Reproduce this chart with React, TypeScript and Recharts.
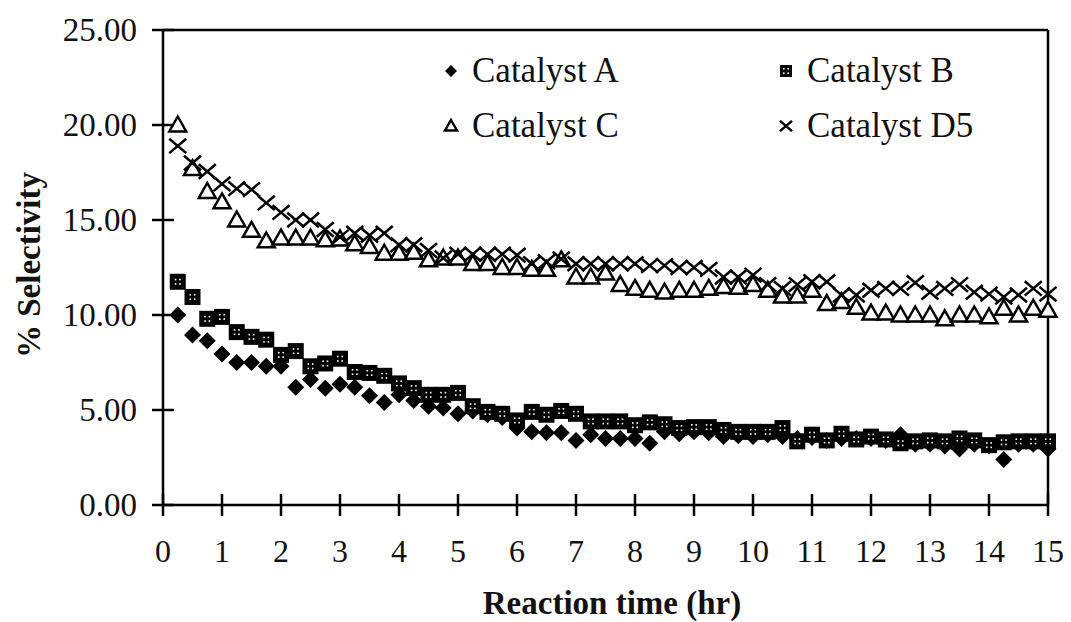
import React from "react";
import {
  ScatterChart,
  Scatter,
  XAxis,
  YAxis,
  ReferenceLine,
  Label,
} from "recharts";

const hours = [
  0.25, 0.5, 0.75, 1, 1.25, 1.5, 1.75, 2, 2.25, 2.5, 2.75, 3, 3.25, 3.5, 3.75,
  4, 4.25, 4.5, 4.75, 5, 5.25, 5.5, 5.75, 6, 6.25, 6.5, 6.75, 7, 7.25, 7.5,
  7.75, 8, 8.25, 8.5, 8.75, 9, 9.25, 9.5, 9.75, 10, 10.25, 10.5, 10.75, 11,
  11.25, 11.5, 11.75, 12, 12.25, 12.5, 12.75, 13, 13.25, 13.5, 13.75, 14,
  14.25, 14.5, 14.75, 15,
];

const catalystA = [
  10.0, 8.95, 8.65, 7.95, 7.5, 7.5, 7.3, 7.3, 6.2, 6.6, 6.15, 6.35, 6.2, 5.75,
  5.4, 5.8, 5.5, 5.2, 5.1, 4.8, 4.95, 4.75, 4.6, 4.05, 3.85, 3.8, 3.8, 3.4,
  3.7, 3.5, 3.5, 3.5, 3.25, 3.85, 3.75, 3.85, 3.8, 3.6, 3.65, 3.6, 3.7, 3.6,
  3.5, 3.55, 3.4, 3.5, 3.5, 3.5, 3.4, 3.7, 3.2, 3.2, 3.1, 2.95, 3.2, 3.1, 2.4,
  3.2, 3.2, 2.95,
];

const catalystB = [
  11.75, 10.95, 9.8, 9.9, 9.1, 8.85, 8.7, 7.9, 8.1, 7.3, 7.45, 7.7, 7.0, 6.95,
  6.8, 6.4, 6.15, 5.8, 5.8, 5.9, 5.2, 4.9, 4.8, 4.45, 4.9, 4.75, 4.95, 4.8,
  4.4, 4.4, 4.4, 4.2, 4.35, 4.25, 4.05, 4.1, 4.1, 3.95, 3.85, 3.85, 3.85, 4.05,
  3.35, 3.7, 3.4, 3.75, 3.45, 3.6, 3.45, 3.25, 3.35, 3.4, 3.35, 3.5, 3.4, 3.15,
  3.3, 3.35, 3.35, 3.35,
];

const catalystC = [
  20.0, 17.7, 16.5, 15.95, 15.0, 14.45, 13.9, 14.05, 14.05, 14.05, 13.95, 14.0,
  13.75, 13.6, 13.25, 13.25, 13.3, 12.9, 13.0, 13.0, 12.7, 12.7, 12.5, 12.5,
  12.4, 12.4, 12.9, 12.0, 12.0, 12.2, 11.6, 11.4, 11.3, 11.2, 11.3, 11.3, 11.4,
  11.5, 11.45, 11.6, 11.3, 11.0, 11.0, 11.3, 10.6, 10.7, 10.4, 10.1, 10.1,
  10.0, 10.0, 10.0, 9.8, 10.0, 10.0, 9.9, 10.35, 10.0, 10.35, 10.25,
];

const catalystD5 = [
  18.9, 18.0, 17.55, 16.9, 16.65, 16.6, 15.9, 15.4, 15.0, 15.0, 14.5, 14.1,
  14.3, 14.2, 14.3, 13.7, 13.7, 13.4, 13.0, 13.2, 13.2, 13.2, 13.2, 13.15, 12.7,
  12.8, 12.95, 12.7, 12.7, 12.7, 12.7, 12.7, 12.6, 12.6, 12.5, 12.5, 12.4, 12.0,
  12.0, 12.1, 11.6, 11.4, 11.6, 11.75, 11.75, 11.05, 11.05, 11.3, 11.4, 11.4,
  11.7, 11.2, 11.4, 11.6, 11.2, 11.1, 10.95, 11.05, 11.4, 11.1,
];

const xTicks = [0, 1, 2, 3, 4, 5, 6, 7, 8, 9, 10, 11, 12, 13, 14, 15];
const yTicks = [0, 5, 10, 15, 20, 25];

const FONT = "Liberation Serif, DejaVu Serif, serif";

const toPoints = (vals: number[]) => vals.map((v, i) => ({ t: hours[i], v }));

const DiamondMark = ({ cx, cy, s = 8.5 }: any) => (
  <path
    d={`M${cx},${cy - s} L${cx + s},${cy} L${cx},${cy + s} L${cx - s},${cy} Z`}
    fill="#000"
  />
);

const SquareMark = ({ cx, cy, s = 8 }: any) => (
  <g>
    <rect x={cx - s} y={cy - s} width={s * 2} height={s * 2} fill="#000" />
    <rect x={cx - 3} y={cy - 3} width={1.6} height={1.6} fill="#fff" />
    <rect x={cx + 1.4} y={cy - 3} width={1.6} height={1.6} fill="#fff" />
    <rect x={cx - 3} y={cy + 1.4} width={1.6} height={1.6} fill="#fff" />
    <rect x={cx + 1.4} y={cy + 1.4} width={1.6} height={1.6} fill="#fff" />
  </g>
);

const TriangleMark = ({ cx, cy, s = 8.5 }: any) => (
  <path
    d={`M${cx},${cy - s} L${cx + s},${cy + s * 0.75} L${cx - s},${cy + s * 0.75} Z`}
    fill="#fff"
    stroke="#000"
    strokeWidth={2.5}
  />
);

const CrossMark = ({ cx, cy, s = 8.5 }: any) => (
  <g stroke="#000" strokeWidth={2.5}>
    <line x1={cx - s} y1={cy - s * 0.85} x2={cx + s} y2={cy + s * 0.85} />
    <line x1={cx - s} y1={cy + s * 0.85} x2={cx + s} y2={cy - s * 0.85} />
  </g>
);

const YTick = ({ x, y, payload }: any) => (
  <g>
    <line x1={x - 11} x2={x + 11} y1={y} y2={y} stroke="#000" strokeWidth={2.5} />
    <text
      x={x - 26}
      y={y}
      dy={11}
      textAnchor="end"
      style={{ fontFamily: FONT, fontSize: 33 }}
      fill="#111"
    >
      {Number(payload.value).toFixed(2)}
    </text>
  </g>
);

const XTick = ({ x, y, payload }: any) => (
  <g>
    <line x1={x} x2={x} y1={y - 11} y2={y + 11} stroke="#000" strokeWidth={2.5} />
    <text
      x={x}
      y={y}
      dy={57}
      textAnchor="middle"
      style={{ fontFamily: FONT, fontSize: 32 }}
      fill="#111"
    >
      {payload.value}
    </text>
  </g>
);

const legendItems = [
  { name: "Catalyst A", Mark: DiamondMark },
  { name: "Catalyst B", Mark: SquareMark },
  { name: "Catalyst C", Mark: TriangleMark },
  { name: "Catalyst D5", Mark: CrossMark },
];

const LegendBox = () => (
  <div
    style={{
      position: "absolute",
      left: 440,
      top: 50,
      display: "grid",
      gridTemplateColumns: "335px 230px",
      rowGap: 14,
      fontFamily: FONT,
      fontSize: 35,
      color: "#111",
    }}
  >
    {legendItems.map(({ name, Mark }) => (
      <div key={name} style={{ display: "flex", alignItems: "center", height: 41 }}>
        <svg width={26} height={20} style={{ marginRight: 6 }}>
          <Mark cx={11} cy={10} s={6} />
        </svg>
        <span>{name}</span>
      </div>
    ))}
  </div>
);

export default function App() {
  return (
    <div
      style={{
        position: "absolute",
        left: 0,
        top: 0,
        width: 1071,
        height: 622,
        background: "#fff",
      }}
    >
      <ScatterChart
        width={1071}
        height={622}
        margin={{ top: 30, right: 23, left: 0, bottom: 0 }}
      >
        <XAxis
          type="number"
          dataKey="t"
          domain={[0, 15]}
          ticks={xTicks}
          interval={0}
          height={117}
          tickSize={0}
          tickMargin={0}
          tickLine={false}
          axisLine={{ stroke: "#000", strokeWidth: 2.5 }}
          tick={<XTick />}
        >
          <Label
            content={() => (
              <text
                x={612}
                y={614}
                textAnchor="middle"
                style={{ fontFamily: FONT, fontWeight: "bold", fontSize: 33 }}
                fill="#111"
              >
                Reaction time (hr)
              </text>
            )}
          />
        </XAxis>
        <YAxis
          type="number"
          dataKey="v"
          domain={[0, 25]}
          ticks={yTicks}
          interval={0}
          width={163}
          tickSize={0}
          tickMargin={0}
          tickLine={false}
          axisLine={{ stroke: "#000", strokeWidth: 2.5 }}
          tick={<YTick />}
        >
          <Label
            content={() => (
              <text
                x={0}
                y={0}
                transform="translate(40,265) rotate(-90)"
                textAnchor="middle"
                style={{ fontFamily: FONT, fontWeight: "bold", fontSize: 33 }}
                fill="#111"
              >
                % Selectivity
              </text>
            )}
          />
        </YAxis>
        <ReferenceLine y={25} stroke="#000" strokeWidth={2.5} />
        <ReferenceLine x={15} stroke="#000" strokeWidth={2.5} />
        <Scatter
          name="Catalyst A"
          data={toPoints(catalystA)}
          isAnimationActive={false}
          shape={(p: any) => <DiamondMark cx={p.cx} cy={p.cy} />}
        />
        <Scatter
          name="Catalyst B"
          data={toPoints(catalystB)}
          isAnimationActive={false}
          shape={(p: any) => <SquareMark cx={p.cx} cy={p.cy} />}
        />
        <Scatter
          name="Catalyst C"
          data={toPoints(catalystC)}
          isAnimationActive={false}
          shape={(p: any) => <TriangleMark cx={p.cx} cy={p.cy} />}
        />
        <Scatter
          name="Catalyst D5"
          data={toPoints(catalystD5)}
          isAnimationActive={false}
          shape={(p: any) => <CrossMark cx={p.cx} cy={p.cy} />}
        />
      </ScatterChart>
      <LegendBox />
    </div>
  );
}
